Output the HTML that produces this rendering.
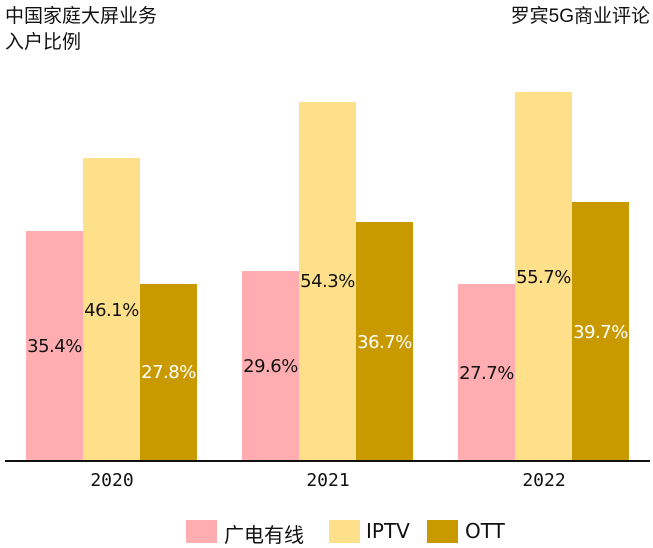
<!DOCTYPE html>
<html><head><meta charset="utf-8"><style>
body{margin:0;width:653px;height:545px;background:#fff;position:relative;overflow:hidden;font-family:"Liberation Sans","Noto Sans CJK SC",sans-serif;color:#111}
.b{position:absolute}
.l{position:absolute;width:57px;text-align:center;font-family:"DejaVu Sans","Noto Sans CJK SC",sans-serif;font-size:18px;letter-spacing:-0.5px}
.t{position:absolute;font-size:19px;line-height:26px}
.y{position:absolute;font-family:"DejaVu Sans Mono","Liberation Mono",monospace;font-size:18px;width:80px;text-align:center;top:470px}
.sq{position:absolute;top:520px;width:31px;height:23px}
.lt{position:absolute;top:519px;font-size:20px;font-family:"DejaVu Sans","Noto Sans CJK SC",sans-serif}
</style></head><body>
<div class="t" style="left:5px;top:4px">中国家庭大屏业务<br>入户比例</div>
<div class="t" style="right:3px;top:4px">罗宾5G商业评论</div>

<div class="b" style="left:26px;top:231px;width:57px;height:230px;background:#FFADB0"></div>
<div class="b" style="left:83px;top:158px;width:57px;height:303px;background:#FFE08A"></div>
<div class="b" style="left:140px;top:284px;width:57px;height:177px;background:#C99A00"></div>
<div class="b" style="left:242px;top:271px;width:57px;height:190px;background:#FFADB0"></div>
<div class="b" style="left:299px;top:102px;width:57px;height:359px;background:#FFE08A"></div>
<div class="b" style="left:356px;top:222px;width:57px;height:239px;background:#C99A00"></div>
<div class="b" style="left:458px;top:284px;width:57px;height:177px;background:#FFADB0"></div>
<div class="b" style="left:515px;top:92px;width:57px;height:369px;background:#FFE08A"></div>
<div class="b" style="left:572px;top:202px;width:57px;height:259px;background:#C99A00"></div>

<div class="l" style="left:26px;top:336px">35.4%</div>
<div class="l" style="left:83px;top:300px">46.1%</div>
<div class="l" style="left:140px;top:362px;color:#fff">27.8%</div>
<div class="l" style="left:242px;top:356px">29.6%</div>
<div class="l" style="left:299px;top:271px">54.3%</div>
<div class="l" style="left:356px;top:332px;color:#fff">36.7%</div>
<div class="l" style="left:458px;top:363px">27.7%</div>
<div class="l" style="left:515px;top:267px">55.7%</div>
<div class="l" style="left:572px;top:322px;color:#fff">39.7%</div>

<div class="b" style="left:5px;top:460px;width:645px;height:2px;background:#111"></div>
<div class="y" style="left:72px">2020</div>
<div class="y" style="left:288px">2021</div>
<div class="y" style="left:504px">2022</div>

<div class="sq" style="left:186px;background:#FFADB0"></div>
<div class="lt" style="left:224px">广电有线</div>
<div class="sq" style="left:329px;background:#FFE08A"></div>
<div class="lt" style="left:366px">IPTV</div>
<div class="sq" style="left:427px;background:#C99A00"></div>
<div class="lt" style="left:465px">OTT</div>
</body></html>
